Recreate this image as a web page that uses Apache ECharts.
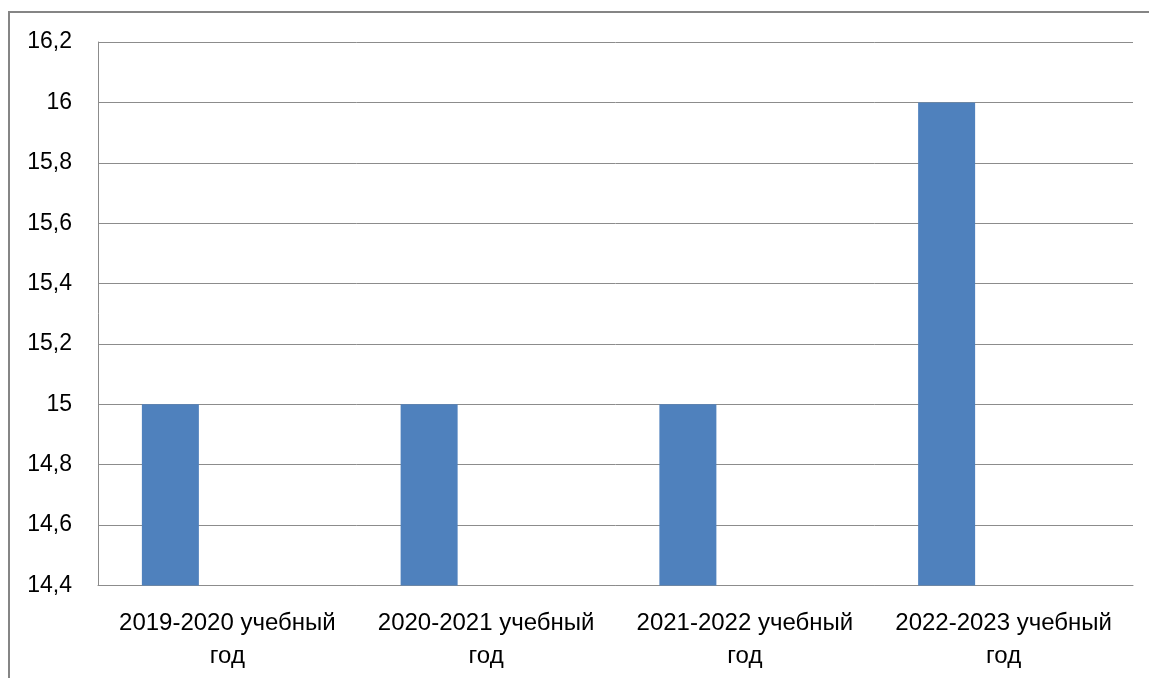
<!DOCTYPE html>
<html>
<head>
<meta charset="utf-8">
<script src="https://cdn.jsdelivr.net/npm/echarts@6/dist/echarts.min.js"></script>
<style>
html,body{margin:0;padding:0;background:#fff;}
#chart{width:1149px;height:678px;}
</style>
</head>
<body>
<div id="chart"></div>
<script>
const categories = ['2019-2020 учебный\nгод', '2020-2021 учебный\nгод', '2021-2022 учебный\nгод', '2022-2023 учебный\nгод'];
const values = [15, 15, 15, 16];
const emptySeries = [null, null, null, null];
const yMin = 14.4, yMax = 16.2, yStep = 0.2;

const chart = echarts.init(document.getElementById('chart'), null, {renderer: 'canvas'});
chart.setOption({
  animation: false,
  backgroundColor: '#fff',
  textStyle: {fontFamily: 'Liberation Sans'},
  graphic: [{
    type: 'rect',
    shape: {x: 9, y: 12, width: 1300, height: 800},
    style: {fill: 'none', stroke: '#858585', lineWidth: 2},
    silent: true
  }],
  grid: {left: 98, right: 16, top: 42, bottom: 92.5, containLabel: false},
  xAxis: {
    type: 'category',
    data: categories,
    axisLine: {show: true, lineStyle: {color: '#8c8c8c', width: 1}},
    axisTick: {show: false},
    axisLabel: {color: '#000', fontSize: 24, lineHeight: 33, margin: 21, interval: 0, fontFamily: 'Liberation Sans'}
  },
  yAxis: {
    type: 'value',
    min: yMin, max: yMax, interval: yStep,
    axisLine: {show: true, lineStyle: {color: '#8c8c8c', width: 1}},
    axisTick: {show: false},
    splitLine: {show: true, lineStyle: {color: '#8c8c8c', width: 1}},
    axisLabel: {
      color: '#000', fontSize: 23, margin: 26, fontFamily: 'Liberation Sans',
      formatter: v => (Math.round(v * 10) / 10).toString().replace('.', ',')
    }
  },
  series: [
    {type: 'bar', data: values, barWidth: 57, barGap: '100%', itemStyle: {color: '#4F81BD'}},
    {type: 'bar', data: emptySeries, barWidth: 57, barGap: '100%', itemStyle: {color: '#C0504D'}}
  ]
});
</script>
</body>
</html>
